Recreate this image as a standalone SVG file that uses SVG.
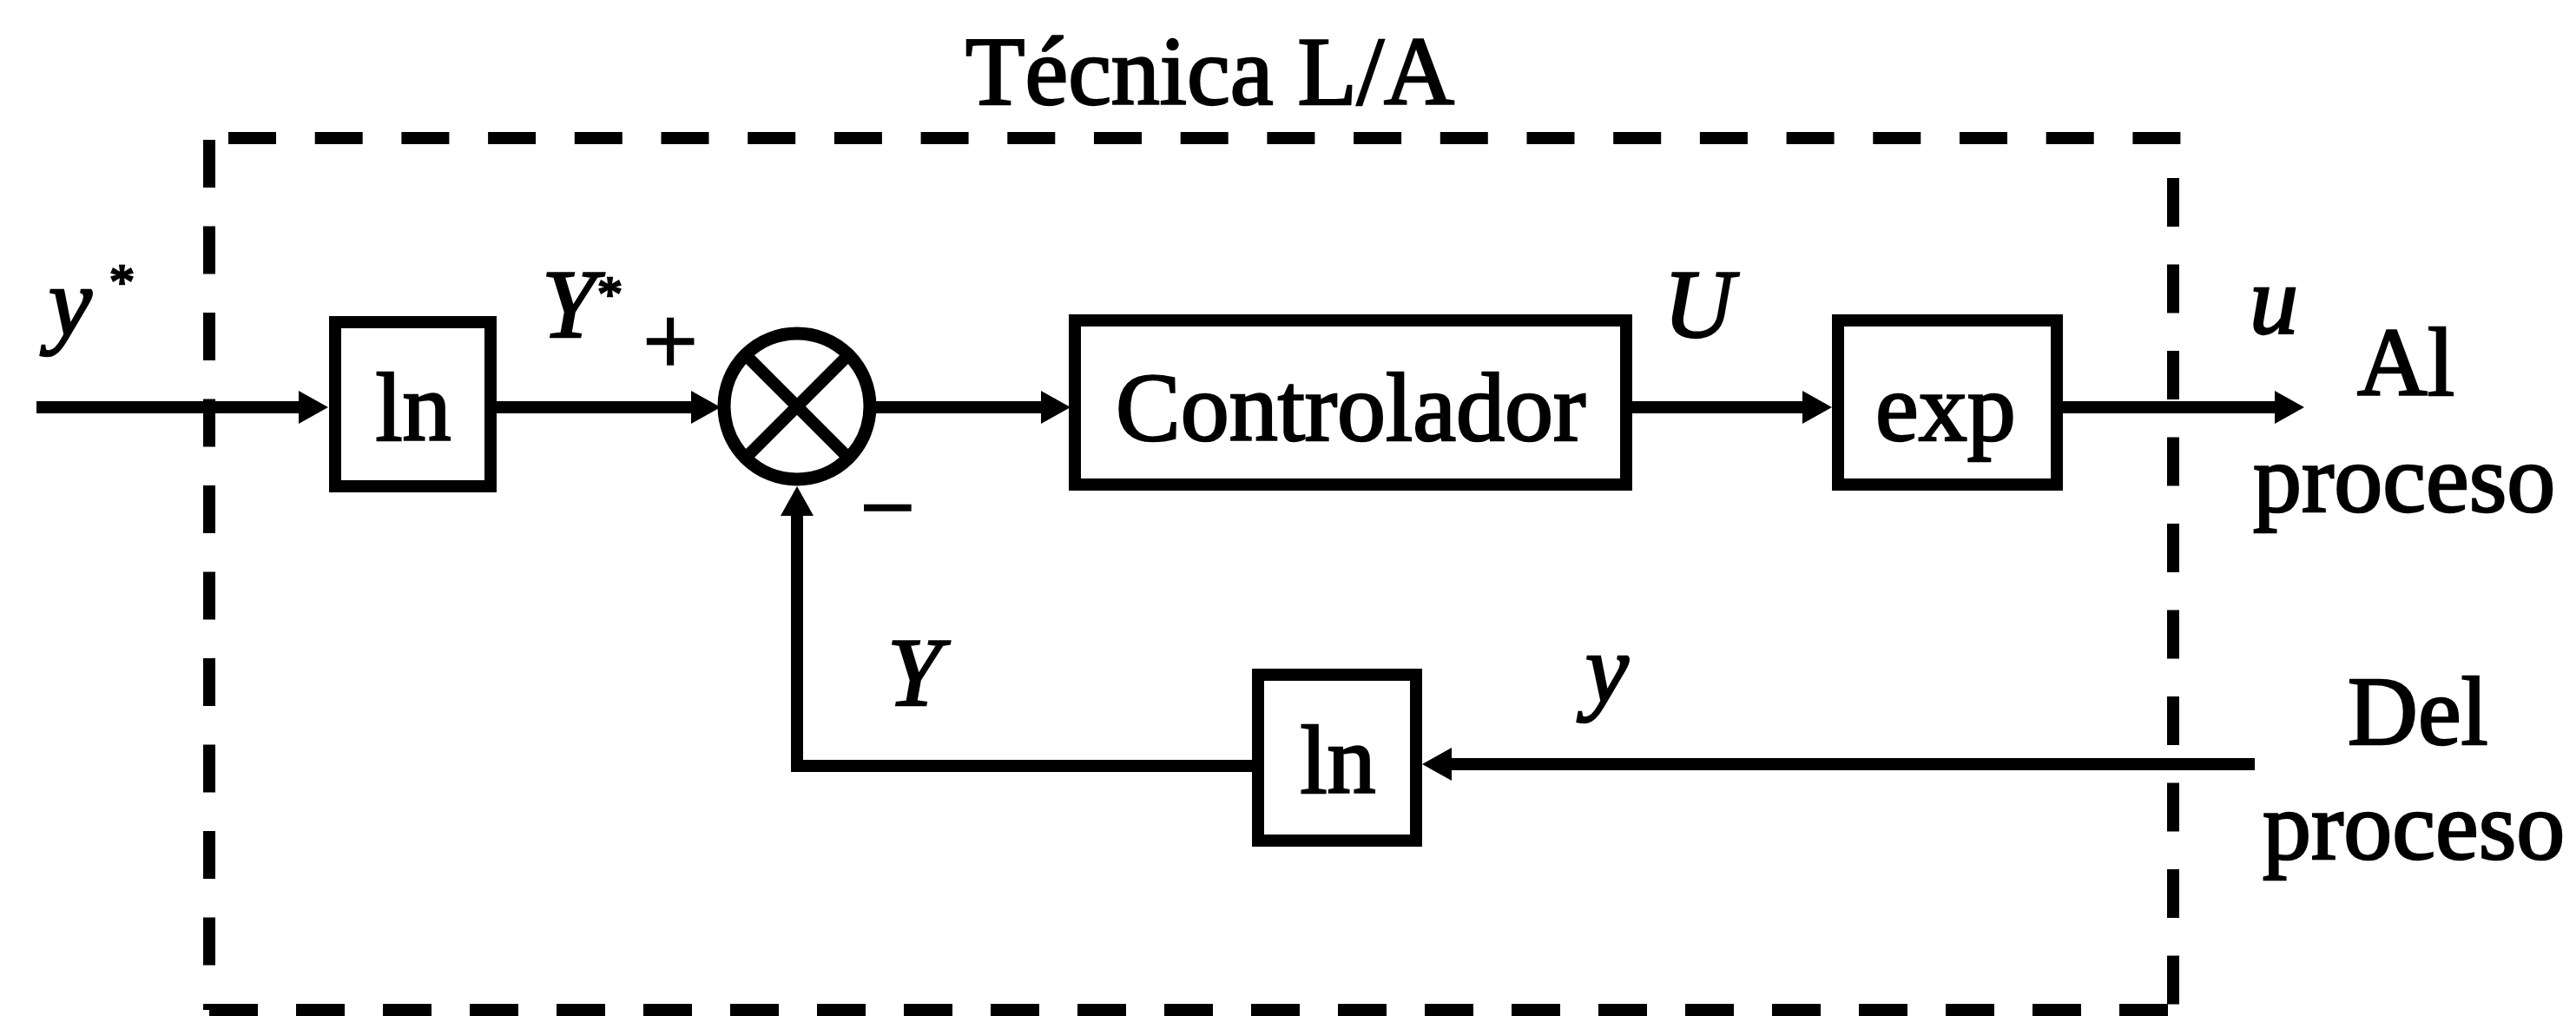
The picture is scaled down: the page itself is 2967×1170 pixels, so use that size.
<svg xmlns="http://www.w3.org/2000/svg" width="2967" height="1170" viewBox="0 0 2967 1170">
<style>
.t{font-family:"Liberation Serif","Times New Roman",serif;font-size:112px;fill:#000;stroke:#000;stroke-width:2.5}
.i{font-style:italic}
.s{font-size:58px}
.box{fill:#fff;stroke:#000;stroke-width:14}
.w{fill:none;stroke:#000;stroke-width:14}
.d{fill:none;stroke:#000;stroke-width:14}
</style>
<defs>
<marker id="ah" markerUnits="userSpaceOnUse" markerWidth="34" markerHeight="38" refX="14" refY="19" orient="auto">
<path d="M0,0 L34,19 L0,38 z" fill="#000"/>
</marker>
</defs>
<rect x="0" y="0" width="2967" height="1170" fill="#fff"/>

<g id="frame">
<path class="d" d="M263 159 H2512" stroke-dasharray="55 44.7"/>
<path class="d" d="M241 161 V1163" stroke-dasharray="55 44.5"/>
<path class="d" d="M2503 205 V1163" stroke-dasharray="56 43.5"/>
<path class="d" d="M241 1163 H2510" stroke-dasharray="56 44"/>
<text class="t" x="1112" y="120" font-size="108">Técnica L/A</text>
</g>

<g id="connectors">
<path class="w" d="M42 469 H358" marker-end="url(#ah)"/>
<path class="w" d="M572 469 H810" marker-end="url(#ah)"/>
<path class="w" d="M1006 469 H1213" marker-end="url(#ah)"/>
<path class="w" d="M1880 469 H2090" marker-end="url(#ah)"/>
<path class="w" d="M2376 469 H2634" marker-end="url(#ah)"/>
<path class="w" d="M2597 880 H1658" marker-end="url(#ah)"/>
<path class="w" d="M1442 882 H918 V580" marker-end="url(#ah)"/>
</g>

<g id="ln1">
<rect class="box" x="386" y="371" width="179" height="189"/>
<text class="t" x="476" y="507" text-anchor="middle">ln</text>
</g>

<g id="sum">
<circle cx="918" cy="468" r="84" fill="#fff" stroke="#000" stroke-width="15"/>
<path d="M859 409 L977 527 M977 409 L859 527" stroke="#000" stroke-width="14" fill="none"/>
</g>

<g id="controlador">
<rect class="box" x="1238" y="369" width="635" height="189"/>
<text class="t" x="1285" y="507">Controlador</text>
</g>

<g id="exp">
<rect class="box" x="2117" y="369" width="252" height="189"/>
<text class="t" x="2160" y="507">exp</text>
</g>

<g id="ln2">
<rect class="box" x="1449" y="777" width="182" height="191"/>
<text class="t" x="1541" y="913" text-anchor="middle">ln</text>
</g>

<g id="labels">
<text class="t i" x="56" y="386">y</text>
<text class="t s" x="126" y="344">*</text>
<text class="t i" x="624" y="388">Y</text>
<text class="t s" x="688" y="358">*</text>
<text class="t" x="772" y="431" text-anchor="middle">+</text>
<text class="t" x="1022" y="622" text-anchor="middle">−</text>
<text class="t i" x="1916" y="388">U</text>
<text class="t i" x="2591" y="384">u</text>
<text class="t" x="2715" y="455">Al</text>
<text class="t" x="2595" y="589">proceso</text>
<text class="t i" x="1022" y="812">Y</text>
<text class="t i" x="1826" y="808">y</text>
<text class="t" x="2704" y="857">Del</text>
<text class="t" x="2606" y="989">proceso</text>
</g>
</svg>
